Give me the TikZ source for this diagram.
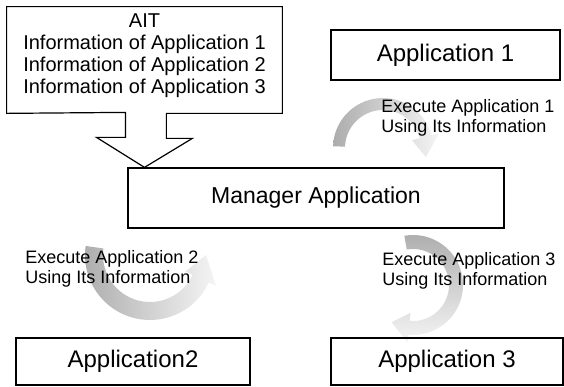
\documentclass[tikz,border=0pt]{standalone}
\usepackage{fontspec}
\setmainfont{Liberation Sans}
\usetikzlibrary{calc,positioning}
\tikzset{every picture/.style={line width=0.75pt}}

\begin{document}
\begin{tikzpicture}[x=1pt,y=1pt,
    appbox/.style={draw, line width=1.2pt, inner sep=0pt, font=\fontsize{24}{26}\selectfont},
    execlabel/.style={align=left, anchor=west, inner sep=0pt, font=\fontsize{18}{20}\selectfont}]
    \useasboundingbox (0,0) rectangle (564,387);

    % curved arrows (shaded bands)
    \shade[left color=gray!65, right color=gray!8] (383,239) ++(178:50) arc[start angle=178, end angle=15, radius=50]
        -- ($(383,239)+(15:58)$) -- ($(383,239)+(-12:44)$) -- ($(383,239)+(15:30)$) -- ($(383,239)+(15:38)$)
        arc[start angle=15, end angle=178, radius=38] -- cycle;
    \shade[left color=gray!65, right color=gray!8] (150,132) ++(172:65) arc[start angle=172, end angle=335, radius=65]
        -- ($(150,132)+(335:73)$) -- ($(150,132)+(360:56)$) -- ($(150,132)+(335:39)$) -- ($(150,132)+(335:47)$)
        arc[start angle=335, end angle=172, radius=47] -- cycle;
    \shade[top color=gray!65, bottom color=gray!8] (413,102) ++(100:50) arc[start angle=100, end angle=-95, radius=50]
        -- ($(413,102)+(-95:58)$) -- ($(413,102)+(-120:43)$) -- ($(413,102)+(-95:28)$) -- ($(413,102)+(-95:36)$)
        arc[start angle=-95, end angle=100, radius=36] -- cycle;

    % application boxes
    \node[appbox, minimum width=229, minimum height=50] (app1) at (445.5,332) {Application 1};
    \node[appbox, minimum width=376, minimum height=60, font=\fontsize{23}{26}\selectfont] (mgr) at (316,189) {Manager Application};
    \node[appbox, minimum width=234, minimum height=47] (app2) at (133,25.5) {Application2};
    \node[appbox, minimum width=232, minimum height=47] (app3) at (447,25.5) {Application 3};

    % AIT box with block arrow
    \node[minimum width=275, minimum height=106, inner sep=0pt] (ait) at (144.5,327) {};
    \node[align=center, inner sep=0pt, font=\fontsize{20}{22}\selectfont] (aittext) at ([yshift=4.5]ait.center)
        {AIT\\Information of Application 1\\Information of Application 2\\Information of Application 3};
    \coordinate (tip) at (ait.south |- mgr.north);
    \draw[line width=1.2pt, line join=miter] (ait.south west) -- (ait.north west) -- (ait.north east) -- (ait.south east)
        -- ++(-116,0) -- ++(0,-25) -- ++(26,0) -- (tip) -- ++(-48,30) -- ++(29,0) -- ++(0,25) -- cycle;

    % labels
    \node[execlabel] (exe1) at (381,269) {Execute Application 1\\Using Its Information};
    \node[execlabel] (exe2) at (25,118) {Execute Application 2\\Using Its Information};
    \node[execlabel] (exe3) at (382,116) {Execute Application 3\\Using Its Information};

\end{tikzpicture}
\end{document}
